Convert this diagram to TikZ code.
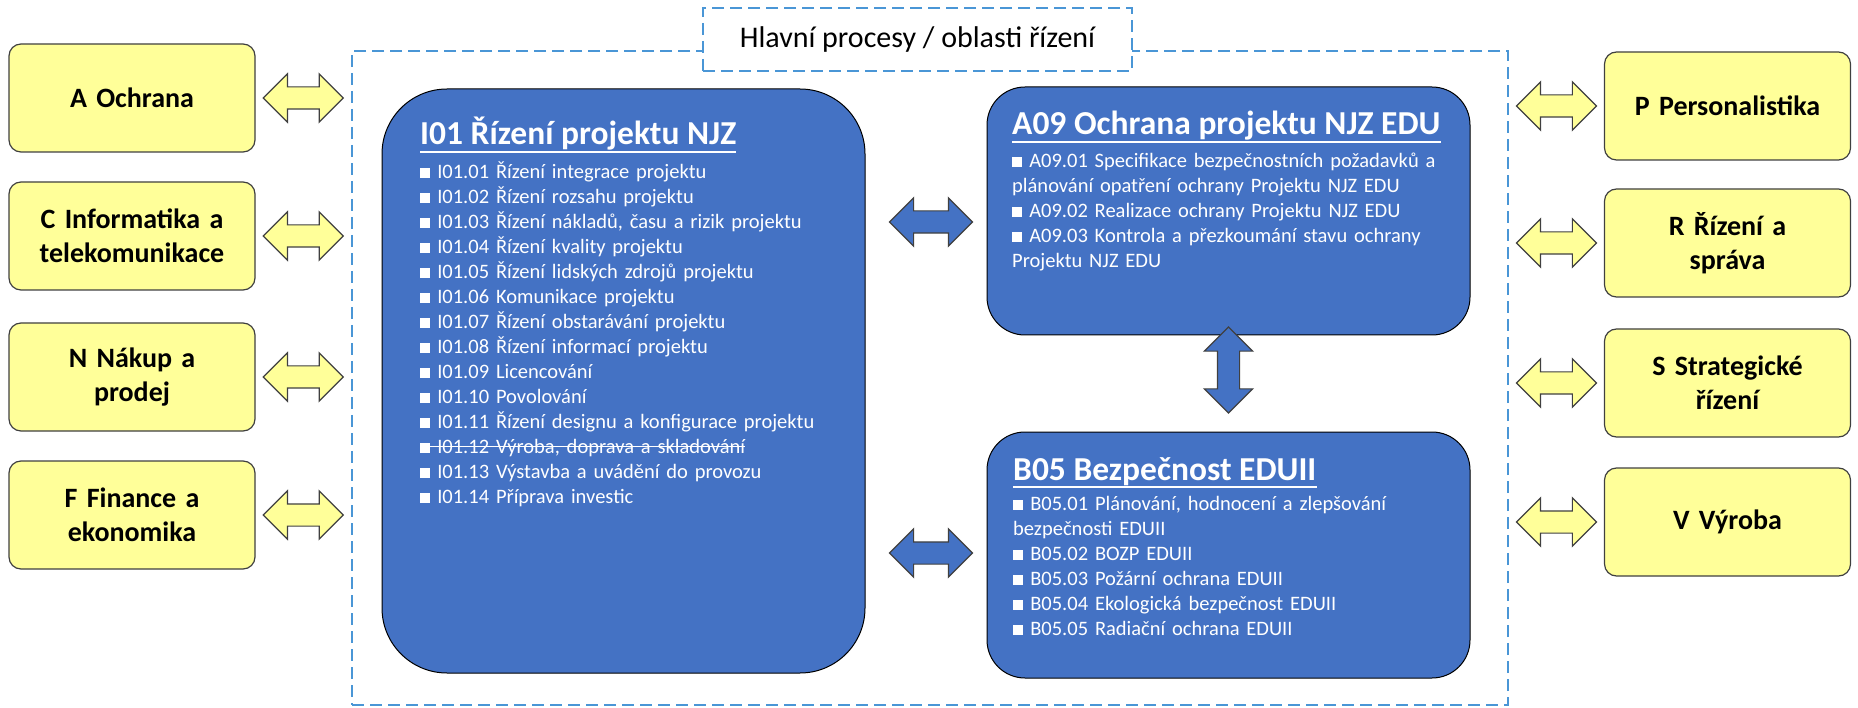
\documentclass[tikz,border=0pt]{standalone}
\usepackage{fontspec}
\setmainfont{Carlito}
\usetikzlibrary{shapes.arrows,positioning,calc}

\definecolor{boxblue}{RGB}{68,114,196}
\definecolor{boxyellow}{RGB}{255,255,153}
\definecolor{dashblue}{RGB}{74,150,214}
\definecolor{edgegray}{RGB}{64,64,64}

\newcommand{\sqbul}{\rule{0.5em}{0.5em}}
\newsavebox{\strikebox}
\newcommand{\strikeout}[1]{\leavevmode\sbox{\strikebox}{#1}\rlap{\rule[0.3em]{\wd\strikebox}{1.5pt}}\usebox{\strikebox}}

\tikzset{
  ybox/.style={draw=edgegray, line width=1.2pt, fill=boxyellow, rounded corners=12pt,
    minimum width=246pt, minimum height=108pt, text width=230pt, align=center,
    inner sep=0pt, font=\fontsize{28}{34}\selectfont\bfseries},
  bbox/.style={draw=black, line width=1pt, fill=boxblue, minimum width=483pt, inner sep=0pt},
  btitle/.style={anchor=base west, text=white, inner sep=0pt, font=\fontsize{33.5}{40}\selectfont\bfseries},
  uline/.style={white, line width=2pt},
  blist/.style={anchor=north west, text=white, inner sep=0pt, text width=455pt, align=left,
    font=\fontsize{20.5}{25}\selectfont},
  yarrow/.style={double arrow, draw=edgegray, line width=1.2pt, fill=boxyellow,
    minimum height=80pt, inner xsep=0pt, inner ysep=10.5pt, double arrow head extend=13pt},
  barrow/.style={yarrow, fill=boxblue, minimum height=83pt},
  areaframe/.style={draw=dashblue, dash pattern=on 12pt off 6pt, line width=2pt}
}

\begin{document}
\begin{tikzpicture}[x=1pt,y=-1pt]
  \useasboundingbox (0,0) rectangle (1858,708);

  % main area
  \node[areaframe, minimum width=1156pt, minimum height=654pt] (frame) at (930,378) {};
  \node[areaframe, fill=white, minimum width=429pt, minimum height=63pt,
    font=\fontsize{30}{36}\selectfont] (hlavni) at (917.5,39.5) {Hlavní procesy / oblasti řízení};

  % left areas
  \node[ybox] (ochrana) at (132,98) {A Ochrana};
  \node[ybox] (inform) at (132,236) {C Informatika a\\telekomunikace};
  \node[ybox] (nakup) at (132,377) {N Nákup a\\prodej};
  \node[ybox] (finance) at (132,515) {F Finance a\\ekonomika};

  % right areas
  \node[ybox] (person) at (1727.5,106) {P Personalistika};
  \node[ybox] (rizeni) at (1727.5,243) {R Řízení a\\správa};
  \node[ybox] (strat) at (1727.5,383) {S Strategické\\řízení};
  \node[ybox] (vyroba) at (1727.5,522) {V Výroba};

  % processes
  \node[bbox, rounded corners=65pt, minimum height=584pt] (i01) at (623.5,381) {};
  \node[bbox, rounded corners=38pt, minimum height=248pt] (a09) at (1228.5,211) {};
  \node[bbox, rounded corners=38pt, minimum height=246pt] (b05) at (1228.5,555) {};

  \node[btitle] (i01title) at (420,145) {I01 Řízení projektu NJZ};
  \draw[uline] ([yshift=-7pt]i01title.base west) -- ([yshift=-7pt]i01title.base east);
  \node[blist] (i01list) at (420,160.5) {\strut\sqbul{} I01.01 Řízení integrace projektu\\
    \sqbul{} I01.02 Řízení rozsahu projektu\\
    \sqbul{} I01.03 Řízení nákladů, času a rizik projektu\\
    \sqbul{} I01.04 Řízení kvality projektu\\
    \sqbul{} I01.05 Řízení lidských zdrojů projektu\\
    \sqbul{} I01.06 Komunikace projektu\\
    \sqbul{} I01.07 Řízení obstarávání projektu\\
    \sqbul{} I01.08 Řízení informací projektu\\
    \sqbul{} I01.09 Licencování\\
    \sqbul{} I01.10 Povolování\\
    \sqbul{} I01.11 Řízení designu a konfigurace projektu\\
    \strikeout{\sqbul{} I01.12 Výroba, doprava a skladování}\\
    \sqbul{} I01.13 Výstavba a uvádění do provozu\\
    \sqbul{} I01.14 Příprava investic};

  \node[btitle] (a09title) at (1012,135) {A09 Ochrana projektu NJZ EDU};
  \draw[uline] ([yshift=-7pt]a09title.base west) -- ([yshift=-7pt]a09title.base east);
  \node[blist] (a09list) at (1012,149.5) {\strut\sqbul{} A09.01 Specifikace bezpečnostních požadavků a\\
    plánování opatření ochrany Projektu NJZ EDU\\
    \sqbul{} A09.02 Realizace ochrany Projektu NJZ EDU\\
    \sqbul{} A09.03 Kontrola a přezkoumání stavu ochrany\\
    Projektu NJZ EDU};

  \node[btitle] (b05title) at (1013,480) {B05 Bezpečnost EDUII};
  \draw[uline] ([yshift=-7pt]b05title.base west) -- ([yshift=-7pt]b05title.base east);
  \node[blist] (b05list) at (1013,492.5) {\strut\sqbul{} B05.01 Plánování, hodnocení a zlepšování\\
    bezpečnosti EDUII\\
    \sqbul{} B05.02 BOZP EDUII\\
    \sqbul{} B05.03 Požární ochrana EDUII\\
    \sqbul{} B05.04 Ekologická bezpečnost EDUII\\
    \sqbul{} B05.05 Radiační ochrana EDUII};

  % links to the outer areas
  \node[yarrow] (arrA) at ($(ochrana.east)!0.5!(ochrana.east -| frame.west)$) {};
  \node[yarrow] (arrC) at ($(inform.east)!0.5!(inform.east -| frame.west)$) {};
  \node[yarrow] (arrN) at ($(nakup.east)!0.5!(nakup.east -| frame.west)$) {};
  \node[yarrow] (arrF) at ($(finance.east)!0.5!(finance.east -| frame.west)$) {};
  \node[yarrow] (arrP) at ($(person.west)!0.5!(person.west -| frame.east)$) {};
  \node[yarrow] (arrR) at ($(rizeni.west)!0.5!(rizeni.west -| frame.east)$) {};
  \node[yarrow] (arrS) at ($(strat.west)!0.5!(strat.west -| frame.east)$) {};
  \node[yarrow] (arrV) at ($(vyroba.west)!0.5!(vyroba.west -| frame.east)$) {};

  % links between the processes
  \node[barrow, xshift=5pt, yshift=-11pt] (arrIA) at ($(i01.east |- a09.west)!0.5!(a09.west)$) {};
  \node[barrow, xshift=5pt, yshift=2pt] (arrIB) at ($(i01.east |- b05.west)!0.5!(b05.west)$) {};
  \node[barrow, shape border rotate=90, inner xsep=10.5pt, inner ysep=0pt, minimum height=86pt,
    yshift=13.5pt] (arrAB) at ($(a09.south)!0.5!(b05.north)$) {};
\end{tikzpicture}
\end{document}
